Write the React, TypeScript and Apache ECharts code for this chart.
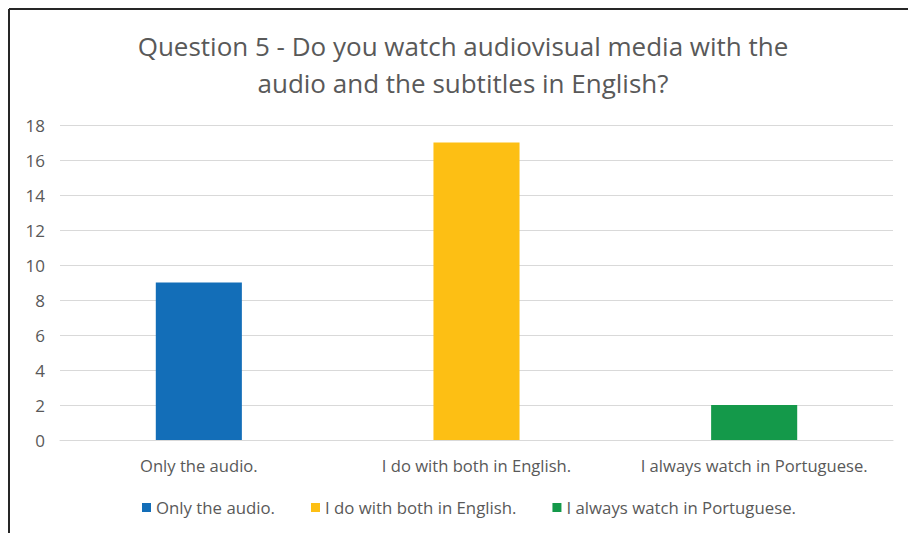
import React, { useEffect, useRef } from "react";
import * as echarts from "echarts";

const categories = ["Only the audio.", "I do with both in English.", "I always watch in Portuguese."];
const seriesNames = ["Only the audio.", "I do with both in English.", "I always watch in Portuguese."];
const onlyAudio = [9, "-", "-"];
const bothEnglish = ["-", 17, "-"];
const portuguese = ["-", "-", 2];
const colors = ["#136EB8", "#FDBF14", "#14994A"];
const titleText = "Question 5 - Do you watch audiovisual media with the\naudio and the subtitles in English?";

const FONT = "'Open Sans', 'Liberation Sans', sans-serif";

export default function App() {
  const ref = useRef<HTMLDivElement>(null);
  useEffect(() => {
    document.body.style.margin = "0";
    const chart = echarts.init(ref.current!, null, { renderer: "svg" });
    const seriesData = [onlyAudio, bothEnglish, portuguese];
    chart.setOption({
      animation: false,
      textStyle: { fontFamily: FONT },
      graphic: [
        { type: "line", shape: { x1: 9, y1: 9, x2: 908, y2: 9 }, style: { stroke: "#262626", lineWidth: 2 } },
        { type: "line", shape: { x1: 9, y1: 9, x2: 9, y2: 533 }, style: { stroke: "#262626", lineWidth: 2 } },
        {
          type: "text",
          x: 463,
          y: 64,
          style: {
            text: titleText,
            align: "center",
            verticalAlign: "middle",
            fontSize: 26,
            lineHeight: 37,
            fontFamily: FONT,
            fill: "#595959",
          },
        },
      ],
      grid: { left: 60, right: 15, top: 125, bottom: 93, containLabel: false },
      legend: {
        left: 137,
        top: 494,
        icon: "rect",
        itemWidth: 9,
        itemHeight: 9,
        itemGap: 36,
        textStyle: { color: "#595959", fontSize: 16.8, fontFamily: FONT },
        data: seriesNames,
      },
      xAxis: {
        type: "category",
        data: categories,
        axisLine: { lineStyle: { color: "#d9d9d9" } },
        axisTick: { show: false },
        axisLabel: { color: "#595959", fontSize: 16.6, margin: 17, interval: 0, fontFamily: FONT },
      },
      yAxis: {
        type: "value",
        min: 0,
        max: 18,
        interval: 2,
        axisLabel: { color: "#595959", fontSize: 17, margin: 15, fontFamily: FONT },
        splitLine: { lineStyle: { color: "#d9d9d9" } },
      },
      series: seriesNames.map((name, i) => ({
        name,
        type: "bar",
        stack: "total",
        barWidth: "31%",
        data: seriesData[i],
        itemStyle: { color: colors[i] },
      })),
    });
    return () => chart.dispose();
  }, []);
  return <div ref={ref} style={{ width: 908, height: 533 }} />;
}
